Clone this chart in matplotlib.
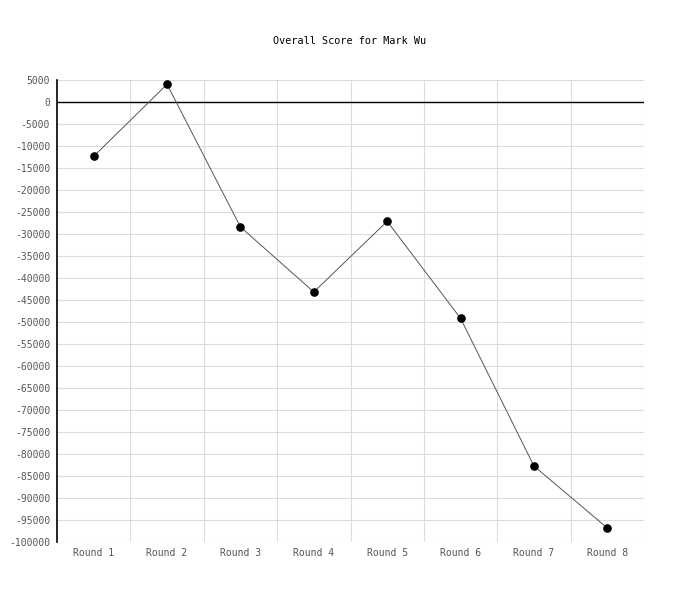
import matplotlib
matplotlib.use("Agg")
import matplotlib.pyplot as plt

rounds = ["Round 1", "Round 2", "Round 3", "Round 4",
          "Round 5", "Round 6", "Round 7", "Round 8"]
scores = [-12340, 4020, -28400, -43180, -27120, -49170, -82730, -96820]
y_ticks = list(range(-100000, 5001, 5000))

plt.rcParams["font.family"] = ["DejaVu Sans Mono"]
plt.rcParams["axes.unicode_minus"] = False

fig = plt.figure(figsize=(7, 6), dpi=100)
ax = fig.add_axes([57 / 700, 58 / 600, 587 / 700, 462 / 600])

x = list(range(len(rounds)))
ax.set_xlim(-0.5, len(rounds) - 0.5)
ax.set_ylim(-100000, 5000)

# grid: horizontal at each tick, vertical between categories
for v in y_ticks:
    ax.axhline(v, color="#dcdcdc", lw=0.8, zorder=0)
for b in range(1, len(rounds) + 1):
    ax.axvline(b - 0.5, color="#dcdcdc", lw=0.8, zorder=0)
ax.axhline(0, color="black", lw=1, zorder=1)

ax.plot(x, scores, color="#555555", lw=0.7, zorder=2)
ax.plot(x, scores, "o", color="black", ms=5.2, zorder=3)

for s in ["top", "right", "bottom"]:
    ax.spines[s].set_visible(False)
ax.spines["left"].set_color("black")
ax.spines["left"].set_linewidth(1.2)

ax.set_xticks(x)
ax.set_xticklabels(rounds)
ax.set_yticks(y_ticks)
ax.set_yticklabels([str(v) for v in y_ticks])
ax.tick_params(axis="both", length=0, labelsize=7, labelcolor="#555555")
ax.tick_params(axis="y", pad=5)
ax.tick_params(axis="x", pad=4.5)

fig.text(350 / 700, 1 - 41 / 600, "Overall Score for Mark Wu",
         ha="center", va="center", fontsize=7.3, color="black")

fig.savefig("out.png", dpi=100)
